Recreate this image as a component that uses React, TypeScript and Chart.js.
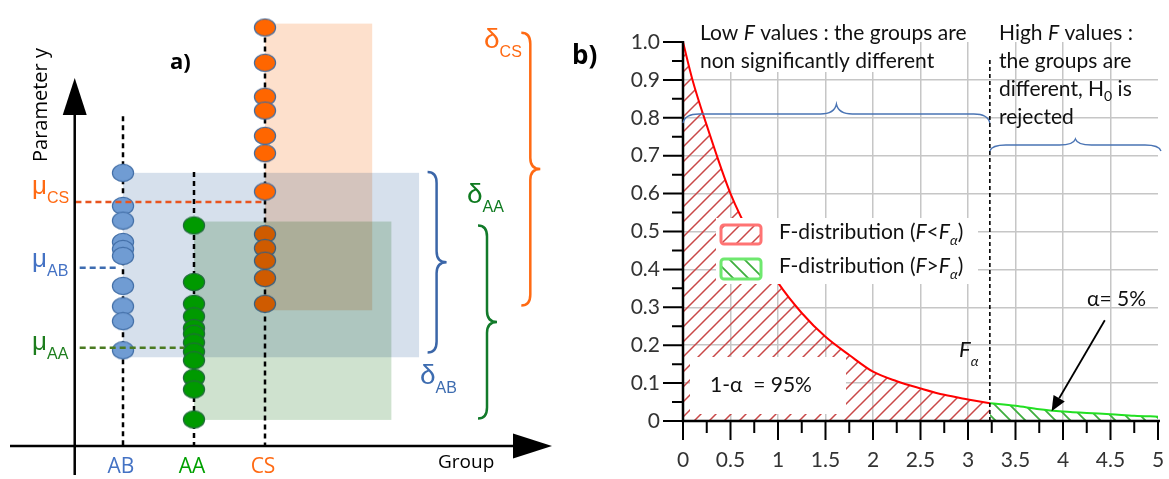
import React, { useEffect, useRef } from 'react';
import { Chart, registerables } from 'chart.js';

Chart.register(...registerables);

// ---------------- Panel a) data ----------------
const groupLabels = ['AB', 'AA', 'CS'];
const groupX = [1, 2, 3];
const abValues = [62.8, 55.2, 51.8, 46.9, 45.3, 43.7, 36.8, 32.1, 28.7, 22.0];
const aaValues = [50.7, 37.7, 32.7, 29.8, 27.1, 25.8, 23.8, 21.7, 19.7, 15.7, 13.0, 6.1];
const csValues = [96.2, 88.1, 80.3, 77.1, 71.3, 67.3, 58.5, 48.7, 45.5, 42.6, 38.6, 32.7];
const groupMeans = [41.0, 22.6, 56.1]; // AB, AA, CS
const rangeLow = [20.4, 6.0, 31.2];
const rangeHigh = [62.8, 51.6, 97.1];
const braceLow = [21.5, 6.3, 32.3];
const braceHigh = [63.0, 50.7, 95.0];
const stemTop = [75.8, 63.0, 96.0];

// ---------------- Panel b) data ----------------
const lowFX = [0, 0.1, 0.25, 0.5, 0.75, 1, 1.25, 1.5, 1.75, 2, 2.25, 2.5, 2.75, 3, 3.23];
const lowFY = [1.0, 0.9, 0.78, 0.6, 0.47, 0.365, 0.285, 0.222, 0.174, 0.13, 0.105, 0.086, 0.069, 0.057, 0.047];
const highFX = [3.23, 3.5, 3.75, 4, 4.25, 4.5, 4.75, 5];
const highFY = [0.047, 0.04, 0.031, 0.025, 0.021, 0.018, 0.014, 0.0115];
const fAlpha = 3.23;
const xTickLabels = ['0', '0.5', '1', '1.5', '2', '2.5', '3', '3.5', '4', '4.5', '5'];
const yTickLabels = ['0', '0.1', '0.2', '0.3', '0.4', '0.5', '0.6', '0.7', '0.8', '0.9', '1.0'];

const OX = 560; // left edge of panel b canvas
const FONT_B = 'Lato, "Open Sans", sans-serif';
const FONT_A = '"Open Sans", sans-serif';
const FONT_G = '"Liberation Sans", Arial, sans-serif';

type Seg = { t: string; f: string; dy?: number };
function drawRich(ctx: CanvasRenderingContext2D, segs: Seg[], x: number, y: number, align = 'left') {
  ctx.textAlign = 'left';
  ctx.textBaseline = 'alphabetic';
  let w = 0;
  for (const s of segs) { ctx.font = s.f; w += ctx.measureText(s.t).width; }
  let cx = align === 'center' ? x - w / 2 : align === 'right' ? x - w : x;
  for (const s of segs) {
    ctx.font = s.f;
    ctx.fillText(s.t, cx, y + (s.dy || 0));
    cx += ctx.measureText(s.t).width;
  }
}

function makeEllipse(fill: string, stroke: string) {
  const c = document.createElement('canvas');
  c.width = 24; c.height = 20;
  const g = c.getContext('2d')!;
  g.beginPath();
  g.ellipse(12, 10, 10.6, 8.6, 0, 0, Math.PI * 2);
  g.fillStyle = fill; g.fill();
  g.lineWidth = 1.2; g.strokeStyle = stroke; g.stroke();
  return c;
}

function makeHatch(ctx: CanvasRenderingContext2D, color: string, dir: number, lw: number) {
  const s = 15;
  const c = document.createElement('canvas');
  c.width = s; c.height = s;
  const g = c.getContext('2d')!;
  g.strokeStyle = color; g.lineWidth = lw;
  g.beginPath();
  if (dir > 0) {
    g.moveTo(-2, s + 2); g.lineTo(s + 2, -2);
    g.moveTo(-2, 2); g.lineTo(2, -2);
    g.moveTo(s - 2, s + 2); g.lineTo(s + 2, s - 2);
  } else {
    g.moveTo(-2, -2); g.lineTo(s + 2, s + 2);
    g.moveTo(s - 2, -2); g.lineTo(s + 2, 2);
    g.moveTo(-2, s - 2); g.lineTo(2, s + 2);
  }
  g.stroke();
  return ctx.createPattern(c, 'repeat')!;
}

function braceRight(ctx: CanvasRenderingContext2D, x0: number, yTop: number, yBot: number) {
  const xb = x0 + 9, xt = x0 + 19, r = 11, ym = (yTop + yBot) / 2;
  ctx.beginPath();
  ctx.moveTo(x0, yTop);
  ctx.quadraticCurveTo(xb, yTop, xb, yTop + r);
  ctx.lineTo(xb, ym - r);
  ctx.quadraticCurveTo(xb, ym, xt, ym);
  ctx.quadraticCurveTo(xb, ym, xb, ym + r);
  ctx.lineTo(xb, yBot - r);
  ctx.quadraticCurveTo(xb, yBot, x0, yBot);
  ctx.stroke();
}

function braceUp(ctx: CanvasRenderingContext2D, xL: number, xR: number, yBody: number, yEnd: number, yTip: number) {
  const xm = (xL + xR) / 2, r = 16;
  ctx.beginPath();
  ctx.moveTo(xL, yEnd);
  ctx.quadraticCurveTo(xL + 2, yBody, xL + r, yBody);
  ctx.lineTo(xm - r, yBody);
  ctx.quadraticCurveTo(xm - 2, yBody, xm, yTip);
  ctx.quadraticCurveTo(xm + 2, yBody, xm + r, yBody);
  ctx.lineTo(xR - r, yBody);
  ctx.quadraticCurveTo(xR - 2, yBody, xR, yEnd);
  ctx.stroke();
}

const panelAPlugin = {
  id: 'panelA',
  beforeDatasetsDraw(chart: any) {
    const { ctx, scales } = chart;
    const X = (v: number) => scales.x.getPixelForValue(v);
    const Y = (v: number) => scales.y.getPixelForValue(v);
    ctx.save();
    // AB range (blue)
    ctx.fillStyle = '#d6e0ec';
    ctx.fillRect(X(groupX[0]), Y(rangeHigh[0]), X(5.17) - X(groupX[0]), Y(rangeLow[0]) - Y(rangeHigh[0]));
    // CS range (orange)
    ctx.globalCompositeOperation = 'multiply';
    ctx.fillStyle = '#fde0cc';
    ctx.fillRect(X(groupX[2]), Y(rangeHigh[2]), X(4.51) - X(groupX[2]), Y(rangeLow[2]) - Y(rangeHigh[2]));
    ctx.restore();
    // stems
    ctx.save();
    ctx.setLineDash([5, 4]);
    ctx.lineWidth = 2.5;
    ctx.strokeStyle = '#000';
    ctx.beginPath();
    for (let i = 0; i < 3; i++) {
      ctx.moveTo(X(groupX[i]), Y(stemTop[i]));
      ctx.lineTo(X(groupX[i]), Y(0));
    }
    ctx.stroke();
    ctx.restore();
  },
  afterDatasetDraw(chart: any, args: any) {
    if (args.index !== 2) return; // after CS points: AA range on top (multiply)
    const { ctx, scales } = chart;
    const X = (v: number) => scales.x.getPixelForValue(v);
    const Y = (v: number) => scales.y.getPixelForValue(v);
    ctx.save();
    ctx.globalCompositeOperation = 'multiply';
    ctx.fillStyle = '#cfe2cf';
    ctx.fillRect(X(groupX[1]), Y(rangeHigh[1]), X(4.78) - X(groupX[1]), Y(rangeLow[1]) - Y(rangeHigh[1]));
    ctx.restore();
  },
  afterDatasetsDraw(chart: any) {
    const { ctx, scales } = chart;
    const X = (v: number) => scales.x.getPixelForValue(v);
    const Y = (v: number) => scales.y.getPixelForValue(v);
    ctx.save();
    ctx.lineWidth = 2.5;
    ctx.setLineDash([6, 4]);
    const mu = [
      { c: '#3d6cb0', x0: 0.39, x1: 0.92 },
      { c: '#4a7a22', x0: 0.39, x1: 1.86 },
      { c: '#e8541e', x0: 0.33, x1: 3.0 },
    ];
    mu.forEach((m, i) => {
      ctx.strokeStyle = m.c;
      ctx.beginPath();
      ctx.moveTo(X(m.x0), Y(groupMeans[i]));
      ctx.lineTo(X(m.x1), Y(groupMeans[i]));
      ctx.stroke();
    });
    ctx.restore();
  },
  afterDraw(chart: any) {
    const { ctx, scales } = chart;
    const X = (v: number) => scales.x.getPixelForValue(v);
    const Y = (v: number) => scales.y.getPixelForValue(v);
    ctx.save();
    // axes arrows
    const ax = X(0.32), ay = Y(0);
    ctx.strokeStyle = '#000'; ctx.fillStyle = '#000'; ctx.lineWidth = 2.5;
    ctx.beginPath();
    ctx.moveTo(ax, 475); ctx.lineTo(ax, 112);
    ctx.moveTo(10, ay); ctx.lineTo(515, ay);
    ctx.stroke();
    ctx.beginPath();
    ctx.moveTo(ax - 12, 115); ctx.lineTo(ax + 12, 115); ctx.lineTo(ax, 78); ctx.closePath(); ctx.fill();
    ctx.beginPath();
    ctx.moveTo(513, ay - 12.5); ctx.lineTo(513, ay + 12.5); ctx.lineTo(552, ay); ctx.closePath(); ctx.fill();

    // axis titles
    ctx.fillStyle = '#000';
    ctx.save();
    ctx.translate(47, 105);
    ctx.rotate(-Math.PI / 2);
    ctx.font = `20px ${FONT_A}`;
    ctx.textAlign = 'center'; ctx.textBaseline = 'alphabetic';
    ctx.fillText('Parameter y', 0, 0);
    ctx.restore();
    ctx.font = `19px ${FONT_A}`;
    ctx.textAlign = 'left';
    ctx.fillText('Group', 438, 468);
    ctx.font = `bold 22px ${FONT_A}`;
    ctx.fillText('a)', 170, 69);

    // group labels
    const gCol = ['#4472c4', '#00a000', '#ff6a13'];
    ctx.font = `21px ${FONT_A}`;
    ctx.textAlign = 'center';
    groupLabels.forEach((g, i) => {
      ctx.fillStyle = gCol[i];
      ctx.fillText(g, X(groupX[i]) - 2, 473);
    });

    // mu labels
    const muCol = ['#4472c4', '#1d7d1d', '#ff6a13'];
    const muBase = [267, 350, 194];
    groupLabels.forEach((g, i) => {
      ctx.fillStyle = muCol[i];
      drawRich(ctx, [
        { t: 'μ', f: `26px ${FONT_G}` },
        { t: g, f: `16px ${FONT_G}`, dy: 9 },
      ], 32, muBase[i]);
    });

    // braces
    const bCol = ['#3b66a8', '#127a2a', '#ff6a13'];
    const bX = [5.29, 6.0, 6.61];
    ctx.lineWidth = 2.5;
    for (let i = 0; i < 3; i++) {
      ctx.strokeStyle = bCol[i];
      braceRight(ctx, X(bX[i]), Y(braceHigh[i]), Y(braceLow[i]));
    }
    // delta labels
    const dCol = ['#3d6cb0', '#0e7a1f', '#ff6a13'];
    const dPos = [[420, 384], [467, 203], [484, 48]];
    groupLabels.forEach((g, i) => {
      ctx.fillStyle = dCol[i];
      drawRich(ctx, [
        { t: 'δ', f: `28px ${FONT_G}` },
        { t: g, f: `16px ${FONT_G}`, dy: 9 },
      ], dPos[i][0], dPos[i][1]);
    });
    ctx.restore();
  },
};

const panelBPlugin = {
  id: 'panelB',
  afterDatasetsDraw(chart: any) {
    const { ctx, scales } = chart;
    const X = (v: number) => scales.x.getPixelForValue(v);
    const Y = (v: number) => scales.y.getPixelForValue(v);
    const P = (a: number) => a - OX;
    ctx.save();
    // white backgrounds of annotation boxes
    ctx.fillStyle = '#fff';
    ctx.fillRect(P(697), 12, 208, 60);
    ctx.fillRect(P(716), 218, 262, 66);
    ctx.fillRect(P(690), 357, 156, 57);

    // F alpha dashed line
    ctx.strokeStyle = '#000';
    ctx.lineWidth = 1.6;
    ctx.setLineDash([4, 3]);
    ctx.beginPath();
    ctx.moveTo(X(fAlpha), 60); ctx.lineTo(X(fAlpha), Y(0));
    ctx.stroke();
    ctx.setLineDash([]);

    // axes
    ctx.lineWidth = 2.5;
    ctx.beginPath();
    ctx.moveTo(X(0), Y(1) - 1); ctx.lineTo(X(0), Y(0) + 1.2);
    ctx.moveTo(X(0) - 1.2, Y(0)); ctx.lineTo(X(5) + 2, Y(0));
    ctx.stroke();
    // tick marks (major + minor)
    ctx.lineWidth = 2;
    ctx.beginPath();
    for (let i = 0; i <= 20; i++) {
      const yy = Y(i * 0.05);
      const len = i % 2 === 0 ? 20 : 11;
      ctx.moveTo(X(0) - len, yy); ctx.lineTo(X(0), yy);
    }
    for (let i = 0; i <= 20; i++) {
      const xx = X(i * 0.25);
      const len = i % 2 === 0 ? 19 : 12;
      ctx.moveTo(xx, Y(0)); ctx.lineTo(xx, Y(0) + len);
    }
    ctx.stroke();

    // braces
    ctx.strokeStyle = '#4a74b4';
    ctx.lineWidth = 1.3;
    braceUp(ctx, X(0), X(fAlpha), 114, 123, 104);
    braceUp(ctx, X(fAlpha), P(1161), 145, 151, 139);

    // texts
    ctx.fillStyle = '#111';
    const n = `21px ${FONT_B}`, it = `italic 21px ${FONT_B}`;
    drawRich(ctx, [{ t: 'Low ', f: n }, { t: 'F', f: it }, { t: ' values : the groups are', f: n }], P(700), 40);
    drawRich(ctx, [{ t: 'non significantly different', f: n }], P(700), 68);
    drawRich(ctx, [{ t: 'High ', f: n }, { t: 'F', f: it }, { t: ' values :', f: n }], P(999), 40);
    drawRich(ctx, [{ t: 'the groups are', f: n }], P(999), 68);
    drawRich(ctx, [{ t: 'different, H', f: n }, { t: '0', f: `14px ${FONT_B}`, dy: 5 }, { t: ' is', f: n }], P(999), 96);
    drawRich(ctx, [{ t: 'rejected', f: n }], P(999), 124);

    // legend
    const red = (chart as any).$redHatch, green = (chart as any).$greenHatch;
    const boxes = [
      { y: 225, h: 19, pat: red, stroke: '#ff7373', rel: '<', base: 239 },
      { y: 259, h: 20, pat: green, stroke: '#6ee86e', rel: '>', base: 273 },
    ];
    boxes.forEach((b) => {
      ctx.beginPath();
      ctx.roundRect(P(721), b.y, 40, b.h, 3);
      ctx.fillStyle = '#fff'; ctx.fill();
      ctx.fillStyle = b.pat; ctx.fill();
      ctx.strokeStyle = b.stroke; ctx.lineWidth = 3; ctx.stroke();
      ctx.fillStyle = '#111';
      drawRich(ctx, [
        { t: 'F-distribution (', f: n }, { t: 'F', f: it }, { t: b.rel, f: n }, { t: 'F', f: it },
        { t: 'α', f: `italic 14px ${FONT_B}`, dy: 6 }, { t: ')', f: n },
      ], P(779), b.base);
    });

    drawRich(ctx, [{ t: '1-α  = 95%', f: n }], P(710), 392);
    drawRich(ctx, [{ t: 'F', f: `italic 22px ${FONT_B}` }, { t: 'α', f: `italic 14px ${FONT_B}`, dy: 9 }], P(959), 357);
    drawRich(ctx, [{ t: 'α= 5%', f: n }], P(1087), 306);

    // arrow
    const x0 = X(4.44), y0 = Y(0.266), x1 = X(3.88), y1 = Y(0.026);
    const ang = Math.atan2(y1 - y0, x1 - x0);
    const hl = 15, hw = 6.5;
    ctx.strokeStyle = '#000'; ctx.lineWidth = 1.8;
    ctx.beginPath();
    ctx.moveTo(x0, y0);
    ctx.lineTo(x1 - Math.cos(ang) * hl, y1 - Math.sin(ang) * hl);
    ctx.stroke();
    ctx.fillStyle = '#000';
    ctx.beginPath();
    ctx.moveTo(x1, y1);
    ctx.lineTo(x1 - Math.cos(ang) * hl - Math.sin(ang) * hw, y1 - Math.sin(ang) * hl + Math.cos(ang) * hw);
    ctx.lineTo(x1 - Math.cos(ang) * hl + Math.sin(ang) * hw, y1 - Math.sin(ang) * hl - Math.cos(ang) * hw);
    ctx.closePath();
    ctx.fill();

    // panel label
    ctx.fillStyle = '#000';
    drawRich(ctx, [{ t: 'b)', f: `bold 26px ${FONT_A}` }], P(572), 64);
    ctx.restore();
  },
};

export default function App() {
  const leftRef = useRef<HTMLCanvasElement>(null);
  const rightRef = useRef<HTMLCanvasElement>(null);

  useEffect(() => {
    const blueImg = makeEllipse('#709cd3', '#4470a8');
    const greenImg = makeEllipse('#009a00', '#1f6b3a');
    const orangeImg = makeEllipse('#ff6600', '#466c9c');

    const left = new Chart(leftRef.current!, {
      type: 'scatter',
      data: {
        datasets: [
          { label: 'AA', data: aaValues.map((v) => ({ x: groupX[1], y: v })), pointStyle: greenImg as any, pointRadius: 10 },
          { label: 'AB', data: abValues.map((v) => ({ x: groupX[0], y: v })), pointStyle: blueImg as any, pointRadius: 10 },
          { label: 'CS', data: csValues.map((v) => ({ x: groupX[2], y: v })), pointStyle: orangeImg as any, pointRadius: 10 },
        ],
      },
      options: {
        animation: false,
        responsive: false,
        maintainAspectRatio: false,
        layout: { padding: { left: 52, right: 4, top: 0, bottom: 33 } },
        scales: {
          x: { type: 'linear', min: 0, max: 7, display: false },
          y: { type: 'linear', min: 0, max: 100, display: false },
        },
        plugins: { legend: { display: false }, tooltip: { enabled: false } },
      },
      plugins: [panelAPlugin as any],
    });

    const rctx = rightRef.current!.getContext('2d')!;
    const redHatch = makeHatch(rctx, '#c94848', 1, 1.5);
    const greenHatch = makeHatch(rctx, '#3fae3f', -1, 1.8);

    const gridColor = (limit: number) => (c: any) => (c.tick && c.tick.value >= limit - 1e-6 ? 'rgba(0,0,0,0)' : '#c6c6c6');
    const fixPad = (s: any) => { s.paddingLeft = 0; s.paddingRight = 0; s.paddingTop = 0; s.paddingBottom = 0; };

    const right = new Chart(rightRef.current!, {
      type: 'line',
      data: {
        datasets: [
          {
            label: 'F-distribution (F<Fα)',
            data: lowFX.map((x, i) => ({ x, y: lowFY[i] })),
            borderColor: '#ff0000',
            borderWidth: 2,
            backgroundColor: redHatch as any,
            fill: 'origin',
            pointRadius: 0,
            cubicInterpolationMode: 'monotone',
          },
          {
            label: 'F-distribution (F>Fα)',
            data: highFX.map((x, i) => ({ x, y: highFY[i] })),
            borderColor: '#22e022',
            borderWidth: 2,
            backgroundColor: greenHatch as any,
            fill: 'origin',
            pointRadius: 0,
            cubicInterpolationMode: 'monotone',
          },
        ],
      },
      options: {
        animation: false,
        responsive: false,
        maintainAspectRatio: false,
        layout: { autoPadding: false, padding: { left: 0, right: 11, top: 42, bottom: 0 } },
        scales: {
          x: {
            type: 'linear', min: 0, max: 5,
            ticks: {
              stepSize: 0.5, autoSkip: false, maxRotation: 0, padding: 27,
              color: '#333', font: { family: FONT_B, size: 21 },
              callback: (_v: any, i: number) => xTickLabels[i],
            },
            grid: { color: gridColor(5), lineWidth: 1.5, drawTicks: false },
            border: { display: false },
            afterFit: (s: any) => { s.height = 58; fixPad(s); },
          },
          y: {
            type: 'linear', min: 0, max: 1,
            ticks: {
              stepSize: 0.1, autoSkip: false, padding: 23,
              color: '#333', font: { family: FONT_B, size: 21 },
              callback: (_v: any, i: number) => yTickLabels[i],
            },
            grid: { color: gridColor(1), lineWidth: 1.5, drawTicks: false },
            border: { display: false },
            afterFit: (s: any) => { s.width = 123; fixPad(s); },
          },
        },
        plugins: { legend: { display: false }, tooltip: { enabled: false } },
      },
      plugins: [panelBPlugin as any],
    });
    (right as any).$redHatch = redHatch;
    (right as any).$greenHatch = greenHatch;
    right.draw();

    return () => {
      left.destroy();
      right.destroy();
    };
  }, []);

  return (
    <div style={{ position: 'fixed', left: 0, top: 0, width: 1169, height: 479, background: '#fff', overflow: 'hidden' }}>
      <canvas ref={leftRef} width={560} height={479} style={{ position: 'absolute', left: 0, top: 0, width: 560, height: 479 }} />
      <canvas ref={rightRef} width={609} height={479} style={{ position: 'absolute', left: OX, top: 0, width: 609, height: 479 }} />
    </div>
  );
}
